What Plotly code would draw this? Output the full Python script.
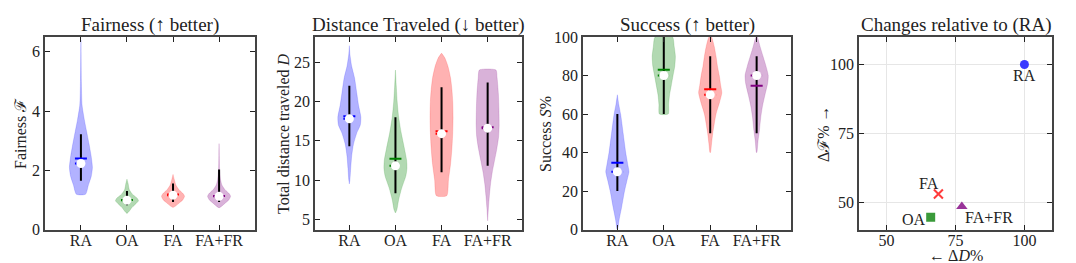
import plotly.graph_objects as go

categories = ["RA", "OA", "FA", "FA+FR"]
fill_colors = ["rgba(0,0,255,0.3)", "rgba(0,128,0,0.3)", "rgba(255,0,0,0.3)", "rgba(128,0,128,0.3)"]
line_colors = ["#0000ff", "#008000", "#ff0000", "#800080"]

# ---- Fairness violins: value levels and relative half-width (fraction of max) ----
fair_RA_v = [6.4, 6.0, 5.0, 4.2, 3.7, 3.3, 2.9, 2.5, 2.1, 1.8, 1.5, 1.19]
fair_RA_w = [0.0, 0.01, 0.04, 0.1, 0.3, 0.5, 0.7, 0.88, 1.0, 0.9, 0.65, 0.4]
fair_OA_v = [1.70, 1.55, 1.35, 1.2, 1.05, 0.97, 0.88, 0.75, 0.62, 0.54]
fair_OA_w = [0.0, 0.1, 0.2, 0.45, 0.9, 1.0, 0.8, 0.45, 0.2, 0.0]
fair_FA_v = [1.86, 1.7, 1.5, 1.35, 1.2, 1.12, 1.0, 0.9, 0.8, 0.74]
fair_FA_w = [0.0, 0.1, 0.25, 0.5, 0.9, 1.0, 0.85, 0.55, 0.25, 0.0]
fair_FR_v = [2.9, 2.5, 2.0, 1.7, 1.5, 1.35, 1.2, 1.12, 1.0, 0.88, 0.78, 0.73]
fair_FR_w = [0.0, 0.02, 0.05, 0.12, 0.25, 0.5, 0.9, 1.0, 0.85, 0.5, 0.2, 0.0]
fair_lo = [1.65, 0.82, 0.93, 0.93]
fair_hi = [3.22, 1.30, 1.55, 2.03]
fair_mean = [2.40, 1.00, 1.18, 1.13]
fair_median = [2.23, 0.99, 1.16, 1.12]

# ---- Distance violins ----
dist_RA_v = [27.1, 26, 24.5, 23, 21, 19.5, 18.0, 17.0, 16.0, 14.5, 13, 11.5, 10.0, 9.5]
dist_RA_w = [0.0, 0.05, 0.2, 0.45, 0.65, 0.8, 1.0, 0.95, 0.65, 0.35, 0.2, 0.12, 0.05, 0.0]
dist_OA_v = [24.0, 22, 20, 18, 16, 14, 12.5, 11.5, 10.5, 9.0, 7.5, 6.2, 5.8]
dist_OA_w = [0.0, 0.07, 0.15, 0.28, 0.5, 0.78, 0.97, 1.0, 0.9, 0.55, 0.28, 0.12, 0.0]
dist_FA_v = [26.15, 25.5, 24.5, 23, 21.5, 20, 18, 16, 14, 12, 10, 8.0]
dist_FA_w = [0.0, 0.3, 0.55, 0.78, 0.9, 0.97, 1.0, 0.97, 0.9, 0.78, 0.6, 0.45]
dist_FR_v = [24.0, 23, 21, 19, 17, 15.5, 14, 12.5, 11, 9.5, 8, 6.5, 4.8]
dist_FR_w = [0.72, 0.82, 0.93, 0.98, 1.0, 0.95, 0.8, 0.6, 0.4, 0.25, 0.15, 0.07, 0.0]
dist_lo = [14.3, 8.3, 11.0, 11.8]
dist_hi = [22.0, 18.0, 21.8, 22.4]
dist_mean = [18.1, 12.7, 16.2, 16.7]
dist_median = [17.8, 11.8, 15.9, 16.6]

# ---- Success violins ----
succ_RA_v = [70, 65, 60, 50, 40, 33, 30, 26, 20, 12, 5, 0]
succ_RA_w = [0.0, 0.12, 0.28, 0.5, 0.72, 0.92, 1.0, 0.85, 0.62, 0.38, 0.15, 0.02]
succ_OA_v = [100, 95, 90, 85, 80, 75, 70, 65, 60]
succ_OA_w = [0.75, 0.9, 1.0, 0.95, 0.8, 0.65, 0.5, 0.42, 0.38]
succ_FA_v = [100, 95, 90, 85, 80, 75, 71, 66, 60, 55, 50, 45, 40]
succ_FA_w = [0.1, 0.35, 0.5, 0.62, 0.78, 0.9, 1.0, 0.8, 0.5, 0.35, 0.22, 0.12, 0.02]
succ_FR_v = [100, 95, 90, 85, 80, 76, 70, 64, 58, 52, 46, 40]
succ_FR_w = [0.05, 0.3, 0.55, 0.8, 1.0, 0.95, 0.72, 0.5, 0.35, 0.25, 0.12, 0.02]
succ_lo = [20, 60, 50, 50]
succ_hi = [60, 100, 90, 90]
succ_mean = [34.7, 83, 72.9, 74.7]
succ_median = [30, 80, 70, 80]

# ---- Relative changes (scatter) ----
delta_D = [100, 66.0, 68.8, 77.3]
delta_F = [100, 44.5, 52.9, 48.4]
scatter_symbols = ["circle", "square", "x-thin", "triangle-up"]
scatter_colors = ["#3b3bff", "#3a9a3a", "#ff3b3b", "#993399"]
scatter_sizes = [9, 9, 9, 10]
label_x = [100, 60.1, 65.5, 87.0]
label_y = [96.1, 43.8, 56.6, 44.3]

HALF = 0.25
FONT = "Liberation Serif, DejaVu Serif, Times New Roman, serif"
W, H = 1068, 255  # page body has an 8px margin


def px_x(p):
    return (p - 8) / W


def px_y(p):
    return (H - (p - 8)) / H


fig = go.Figure()

doms_x = [(px_x(45), px_x(255)), (px_x(315), px_x(522)), (px_x(583), px_x(791)), (px_x(859), px_x(1052))]
dom_y = (px_y(229.5), px_y(37))


def add_violins(ax, profiles, lo, hi, mean, median):
    xa = "x" if ax == 1 else f"x{ax}"
    ya = "y" if ax == 1 else f"y{ax}"
    for i, (vals, wid) in enumerate(profiles):
        xs = [i + w * HALF for w in wid] + [i - w * HALF for w in reversed(wid)]
        ys = list(vals) + list(reversed(vals))
        xs.append(xs[0]); ys.append(ys[0])
        fig.add_trace(go.Scatter(x=xs, y=ys, mode="lines", fill="toself",
                                 fillcolor=fill_colors[i],
                                 line=dict(color=fill_colors[i], width=0.5, shape="spline", smoothing=0.6),
                                 xaxis=xa, yaxis=ya, showlegend=False, hoverinfo="skip"))
    for i in range(4):
        fig.add_trace(go.Scatter(x=[i, i], y=[lo[i], hi[i]], mode="lines",
                                 line=dict(color="black", width=2),
                                 xaxis=xa, yaxis=ya, showlegend=False, hoverinfo="skip"))
        fig.add_trace(go.Scatter(x=[i - 0.13, i + 0.13], y=[median[i], median[i]], mode="lines",
                                 line=dict(color=line_colors[i], width=2, dash="dot"),
                                 xaxis=xa, yaxis=ya, showlegend=False, hoverinfo="skip"))
        fig.add_trace(go.Scatter(x=[i - 0.13, i + 0.13], y=[mean[i], mean[i]], mode="lines",
                                 line=dict(color=line_colors[i], width=2),
                                 xaxis=xa, yaxis=ya, showlegend=False, hoverinfo="skip"))
    fig.add_trace(go.Scatter(x=list(range(4)), y=median, mode="markers",
                             marker=dict(color="white", size=9, line=dict(width=0)),
                             xaxis=xa, yaxis=ya, showlegend=False, hoverinfo="skip"))


add_violins(1, [(fair_RA_v, fair_RA_w), (fair_OA_v, fair_OA_w), (fair_FA_v, fair_FA_w), (fair_FR_v, fair_FR_w)],
            fair_lo, fair_hi, fair_mean, fair_median)
add_violins(2, [(dist_RA_v, dist_RA_w), (dist_OA_v, dist_OA_w), (dist_FA_v, dist_FA_w), (dist_FR_v, dist_FR_w)],
            dist_lo, dist_hi, dist_mean, dist_median)
add_violins(3, [(succ_RA_v, succ_RA_w), (succ_OA_v, succ_OA_w), (succ_FA_v, succ_FA_w), (succ_FR_v, succ_FR_w)],
            succ_lo, succ_hi, succ_mean, succ_median)

for i in range(4):
    fig.add_trace(go.Scatter(x=[delta_D[i]], y=[delta_F[i]], mode="markers",
                             marker=dict(symbol=scatter_symbols[i], color=scatter_colors[i], size=scatter_sizes[i],
                                         line=dict(color=scatter_colors[i], width=2 if i == 2 else 0)),
                             xaxis="x4", yaxis="y4", showlegend=False, hoverinfo="skip"))

TICKFONT = dict(family=FONT, size=16, color="#222222")
axis_common = dict(showline=True, linecolor="#444444", linewidth=1.5, mirror="ticks",
                   ticks="inside", ticklen=5, tickwidth=1.2, tickcolor="#222222",
                   tickfont=TICKFONT, zeroline=False,
                   showgrid=False, automargin=False)

x_ranges = [[-0.78, 3.78], [-0.745, 3.745], [-0.74, 3.74]]
y_ranges = [[0, 6.5], [3.7, 28.2], [0, 100]]
y_ticks = [[0, 2, 4, 6], [5, 10, 15, 20, 25], [0, 20, 40, 60, 80, 100]]

layout = dict(width=W, height=H, margin=dict(l=0, r=0, t=0, b=0, autoexpand=False),
              plot_bgcolor="white", paper_bgcolor="white", showlegend=False)
for k in range(3):
    sx = "xaxis" if k == 0 else f"xaxis{k+1}"
    sy = "yaxis" if k == 0 else f"yaxis{k+1}"
    layout[sx] = dict(axis_common, domain=doms_x[k], range=x_ranges[k], tickmode="array",
                      tickvals=[0, 1, 2, 3], ticktext=categories, ticklabelstandoff=-4,
                      anchor="y" if k == 0 else f"y{k+1}")
    layout[sy] = dict(axis_common, domain=dom_y, range=y_ranges[k], tickmode="array",
                      tickvals=y_ticks[k], anchor="x" if k == 0 else f"x{k+1}")
layout["xaxis4"] = dict(axis_common, domain=doms_x[3], range=[40, 110], tickvals=[50, 75, 100],
                        showgrid=True, gridcolor="#e6e6e6", gridwidth=1, anchor="y4",
                        ticklabelstandoff=-4)
layout["yaxis4"] = dict(axis_common, domain=dom_y, range=[40, 110], tickvals=[50, 75, 100],
                        showgrid=True, gridcolor="#e6e6e6", gridwidth=1, anchor="x4")
fig.update_layout(**layout)

titles = ["Fairness (↑ better)", "Distance Traveled (↓ better)", "Success (↑ better)", "Changes relative to (RA)"]
ann = []
for k in range(4):
    cx = (doms_x[k][0] + doms_x[k][1]) / 2
    ann.append(dict(text=titles[k], x=cx, y=px_y(25), xref="paper", yref="paper",
                    xanchor="center", yanchor="middle", showarrow=False,
                    font=dict(family=FONT, size=19, color="#222222")))

ylabels = ["Fairness ℱ", "Total distance traveled <i>D</i>", "Success <i>S</i>%", "Δℱ% →"]
ylab_px = [20, 283, 545, 823]
for k in range(4):
    ann.append(dict(text=ylabels[k], x=px_x(ylab_px[k]), y=px_y(134), xref="paper", yref="paper",
                    xanchor="center", yanchor="middle", textangle=-90, showarrow=False,
                    font=dict(family=FONT, size=16, color="#222222")))
ann.append(dict(text="← Δ<i>D</i>%", x=(doms_x[3][0] + doms_x[3][1]) / 2, y=px_y(255),
                xref="paper", yref="paper", xanchor="center", yanchor="middle", showarrow=False,
                font=dict(family=FONT, size=16, color="#222222")))

for i in range(4):
    ann.append(dict(text=categories[i], x=label_x[i], y=label_y[i], xref="x4", yref="y4",
                    xanchor="center", yanchor="middle", showarrow=False,
                    font=dict(family=FONT, size=16, color="#222222")))

fig.update_layout(annotations=ann)
fig.write_html("out.html")
